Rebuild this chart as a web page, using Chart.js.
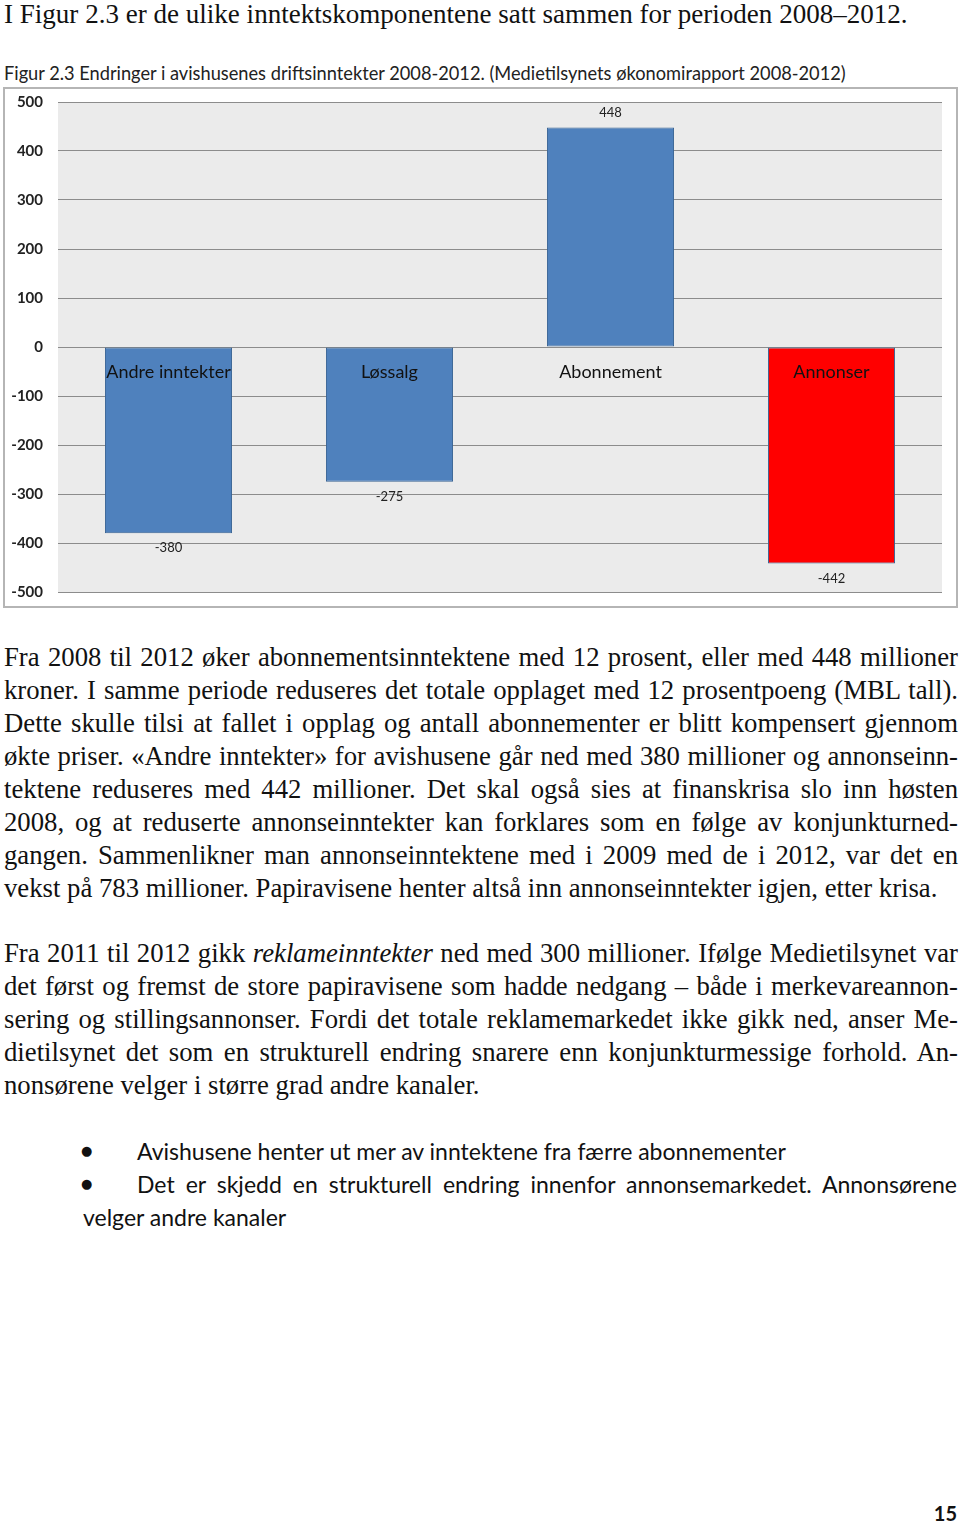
<!DOCTYPE html>
<html lang="no">
<head>
<meta charset="utf-8">
<title>Figur 2.3</title>
<script src="https://cdn.jsdelivr.net/npm/chart.js@4.4.1/dist/chart.umd.min.js"></script>
<style>
  html, body { margin: 0; padding: 0; background: #fff; }
  body { width: 960px; height: 1521px; position: relative; overflow: hidden; color: #111; }
  .serif { font-family: "Liberation Serif", "DejaVu Serif", serif; }
  .sans { font-family: Lato, "Noto Sans", sans-serif; }
  .abs { position: absolute; white-space: nowrap; }
  .para { position: absolute; left: 4px; width: 954px; font-size: 24px; }
  .line { height: 33px; line-height: 33px; white-space: nowrap; text-align: justify; text-align-last: justify; }
  .line.last { text-align: left; text-align-last: left; }
  .dot { position: absolute; left: 81px; font-family: "DejaVu Sans", sans-serif; font-size: 13px; line-height: 20px; }
  #chartBox { position: absolute; left: 3px; top: 87px; width: 955px; height: 521px;
              box-sizing: border-box; border: 2px solid #b5b5b5; }
</style>
</head>
<body>

<div id="intro" class="abs serif" style="left:4px; top:-2px; line-height:33px; font-size:24px;"><span>I Figur 2.3 er de ulike inntektskomponentene satt sammen for perioden 2008–2012.</span></div>

<div id="figTitle" class="abs sans" style="left:4px; top:63px; line-height:20px; font-size:16px; color:#222;"><span>Figur 2.3 Endringer i avishusenes driftsinntekter 2008-2012. (Medietilsynets økonomirapport 2008-2012)</span></div>

<div id="chartBox"><canvas id="chart"></canvas></div>

<div id="p1" class="para serif" style="top:641px;">
  <div class="line"><span>Fra 2008 til 2012 øker abonnementsinntektene med 12 prosent, eller med 448 millioner</span></div>
  <div class="line"><span>kroner. I samme periode reduseres det totale opplaget med 12 prosentpoeng (MBL tall).</span></div>
  <div class="line"><span>Dette skulle tilsi at fallet i opplag og antall abonnementer er blitt kompensert gjennom</span></div>
  <div class="line"><span>økte priser. «Andre inntekter» for avishusene går ned med 380 millioner og annonseinn-</span></div>
  <div class="line"><span>tektene reduseres med 442 millioner. Det skal også sies at finanskrisa slo inn høsten</span></div>
  <div class="line"><span>2008, og at reduserte annonseinntekter kan forklares som en følge av konjunkturned-</span></div>
  <div class="line"><span>gangen. Sammenlikner man annonseinntektene med i 2009 med de i 2012, var det en</span></div>
  <div class="line last"><span id="p1last">vekst på 783 millioner. Papiravisene henter altså inn annonseinntekter igjen, etter krisa.</span></div>
</div>

<div id="p2" class="para serif" style="top:937px;">
  <div class="line"><span>Fra 2011 til 2012 gikk <i>reklameinntekter</i> ned med 300 millioner. Ifølge Medietilsynet var</span></div>
  <div class="line"><span>det først og fremst de store papiravisene som hadde nedgang – både i merkevareannon-</span></div>
  <div class="line"><span>sering og stillingsannonser. Fordi det totale reklamemarkedet ikke gikk ned, anser Me-</span></div>
  <div class="line"><span>dietilsynet det som en strukturell endring snarere enn konjunkturmessige forhold. An-</span></div>
  <div class="line last"><span id="p2last">nonsørene velger i større grad andre kanaler.</span></div>
</div>

<div class="dot" style="top:1141px;">●</div>
<div id="b1" class="abs sans" style="left:137px; top:1135px; line-height:33px; font-size:21px;"><span>Avishusene henter ut mer av inntektene fra færre abonnementer</span></div>
<div class="dot" style="top:1174px;">●</div>
<div id="b2" class="sans" style="position:absolute; left:137px; top:1168px; width:820px; line-height:33px; font-size:21px; white-space:nowrap; text-align:justify; text-align-last:justify;"><span>Det er skjedd en strukturell endring innenfor annonsemarkedet. Annonsørene</span></div>
<div id="b3" class="abs sans" style="left:83px; top:1201px; line-height:33px; font-size:21px;"><span>velger andre kanaler</span></div>

<div class="abs sans" style="right:3px; top:1500px; line-height:26px; font-size:20px; font-weight:bold;">15</div>

<script>
// endringer 2008-2012, millioner kroner
const categories = ['Andre inntekter', 'Løssalg', 'Abonnement', 'Annonser'];
const changes = [-380, -275, 448, -442];
const yMin = -500;
const yMax = 500;
const yStep = 100;

const barColors = ['#4F81BD', '#4F81BD', '#4F81BD', '#FF0000'];

// tekstbredder tilpasset originalen
function fitTo(span, target) {
  const w = span.getBoundingClientRect().width;
  const fs = parseFloat(getComputedStyle(span).fontSize);
  return fs * target / w;
}
const s1 = fitTo(document.getElementById('p1last'), 934);
const s2 = fitTo(document.getElementById('p2last'), 477);
const paraSize = Math.min(s1, s2);
document.getElementById('p1').style.fontSize = paraSize + 'px';
document.getElementById('p2').style.fontSize = paraSize + 'px';

const intro = document.getElementById('intro');
intro.style.fontSize = fitTo(intro.firstChild, 904) + 'px';
const figTitle = document.getElementById('figTitle');
figTitle.style.fontSize = fitTo(figTitle.firstChild, 842) + 'px';
const b1 = document.getElementById('b1');
const bSize = fitTo(b1.firstChild, 649);
['b1', 'b2', 'b3'].forEach(id => document.getElementById(id).style.fontSize = bSize + 'px');

// grå plotflate
const plotBg = {
  id: 'plotBg',
  beforeDraw(chart) {
    const { ctx, chartArea: a } = chart;
    ctx.save();
    ctx.fillStyle = '#EBEBEB';
    ctx.fillRect(a.left, a.top, a.width, a.height);
    ctx.restore();
  }
};

// kategorinavn ved nullinja og verdier over/under søylene, tegnet oppå søylene
const barLabels = {
  id: 'barLabels',
  afterDatasetsDraw(chart) {
    const ctx = chart.ctx;
    const xScale = chart.scales.x;
    const zero = chart.scales.y.getPixelForValue(0);
    const meta = chart.getDatasetMeta(0);
    ctx.save();
    ctx.textAlign = 'center';
    ctx.textBaseline = 'middle';

    ctx.font = '18px Lato, "Noto Sans", sans-serif';
    ctx.fillStyle = '#111';
    categories.forEach((c, i) => {
      ctx.fillText(c, xScale.getPixelForValue(i), zero + 25);
    });

    ctx.font = '13px Lato, "Noto Sans", sans-serif';
    ctx.fillStyle = '#222';
    meta.data.forEach((bar, i) => {
      const v = changes[i];
      ctx.fillText(String(v), bar.x, v >= 0 ? bar.y - 15 : bar.y + 15);
    });
    ctx.restore();
  }
};

new Chart(document.getElementById('chart'), {
  type: 'bar',
  data: {
    labels: categories,
    datasets: [{
      data: changes,
      backgroundColor: barColors,
      borderColor: '#3A6494',
      borderWidth: 1,
      borderSkipped: false,
      barPercentage: 0.575,
      categoryPercentage: 1.0
    }]
  },
  options: {
    responsive: true,
    maintainAspectRatio: false,
    animation: false,
    events: [],
    layout: { padding: { left: 0, right: 14, top: 13, bottom: 14 } },
    plugins: { legend: { display: false }, tooltip: { enabled: false } },
    scales: {
      x: {
        display: false
      },
      y: {
        min: yMin,
        max: yMax,
        ticks: {
          stepSize: yStep,
          padding: 15,
          color: '#222',
          font: { family: 'Lato, "Noto Sans", sans-serif', size: 15, weight: 'bold' }
        },
        grid: { color: '#8C8C8C', lineWidth: 1, drawTicks: false },
        border: { display: false },
        afterFit(scale) {
          scale.width = 53;
          scale.paddingTop = 0;
          scale.paddingBottom = 0;
        }
      }
    }
  },
  plugins: [plotBg, barLabels]
});
</script>
</body>
</html>
